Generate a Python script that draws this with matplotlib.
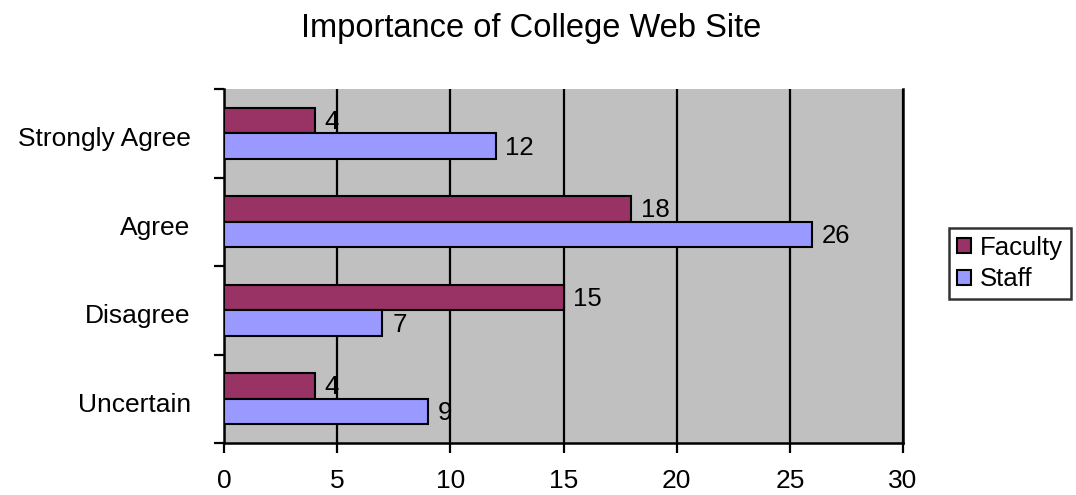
import numpy as np
import matplotlib.pyplot as plt
from matplotlib.patches import Patch

plt.rcParams['font.family'] = ['Liberation Sans', 'DejaVu Sans']

categories = ['Strongly Agree', 'Agree', 'Disagree', 'Uncertain']
faculty = [4, 18, 15, 4]
staff = [12, 26, 7, 9]
xticks = [0, 5, 10, 15, 20, 25, 30]

fig = plt.figure(figsize=(10.76, 4.95), dpi=100)
ax = fig.add_axes([0.2082, 0.105, 0.631, 0.715])
ax.set_facecolor('#C0C0C0')

y = np.arange(len(categories))
h = 0.29
b1 = ax.barh(y - h / 2, faculty, height=h, color='#993366', edgecolor='black', linewidth=1.5, zorder=3)
b2 = ax.barh(y + h / 2, staff, height=h, color='#9999FF', edgecolor='black', linewidth=1.5, zorder=3)

for bars, vals in ((b1, faculty), (b2, staff)):
    for r, v in zip(bars, vals):
        ax.annotate(str(v), (r.get_width(), r.get_y() + r.get_height() / 2),
                    xytext=(7, -1), textcoords='offset points',
                    ha='left', va='center', fontsize=18.5, zorder=4)

ax.set_xlim(0, 30)
ax.set_ylim(len(categories) - 0.5, -0.5)
ax.set_xticks(xticks)
ax.set_xticklabels([str(t) for t in xticks], fontsize=19)
ax.xaxis.grid(True, color='black', linewidth=1.6, zorder=1)
ax.set_axisbelow(True)

# category labels between boundary ticks
ax.set_yticks(y + 0.04)
ax.set_yticklabels(categories, fontsize=19)
ax.tick_params(axis='y', length=0, pad=24)
ax.set_yticks(np.arange(len(categories) + 1) - 0.5, minor=True)
ax.tick_params(axis='y', which='minor', length=7, width=1.6, direction='out')
ax.tick_params(axis='x', length=7, width=1.6, direction='out', pad=12)

ax.spines['top'].set_visible(False)
for s in ('left', 'bottom', 'right'):
    ax.spines[s].set_linewidth(1.8)

fig.text(531 / 1076, 1 - 37 / 495, 'Importance of College Web Site',
         ha='center', va='baseline', fontsize=23.5)

handles = [Patch(facecolor='#993366', edgecolor='black', linewidth=1.5),
           Patch(facecolor='#9999FF', edgecolor='black', linewidth=1.5)]
leg = fig.legend(handles, ['Faculty', 'Staff'], loc='upper left',
                 bbox_to_anchor=(949 / 1076, 1 - 228 / 495), fontsize=18.5,
                 frameon=True, fancybox=False, edgecolor='black',
                 handlelength=0.55, handleheight=0.55, handletextpad=0.35,
                 borderpad=0.3, labelspacing=0.3, borderaxespad=0)
leg.get_frame().set_linewidth(1.8)

fig.savefig('out.png', dpi=100)
